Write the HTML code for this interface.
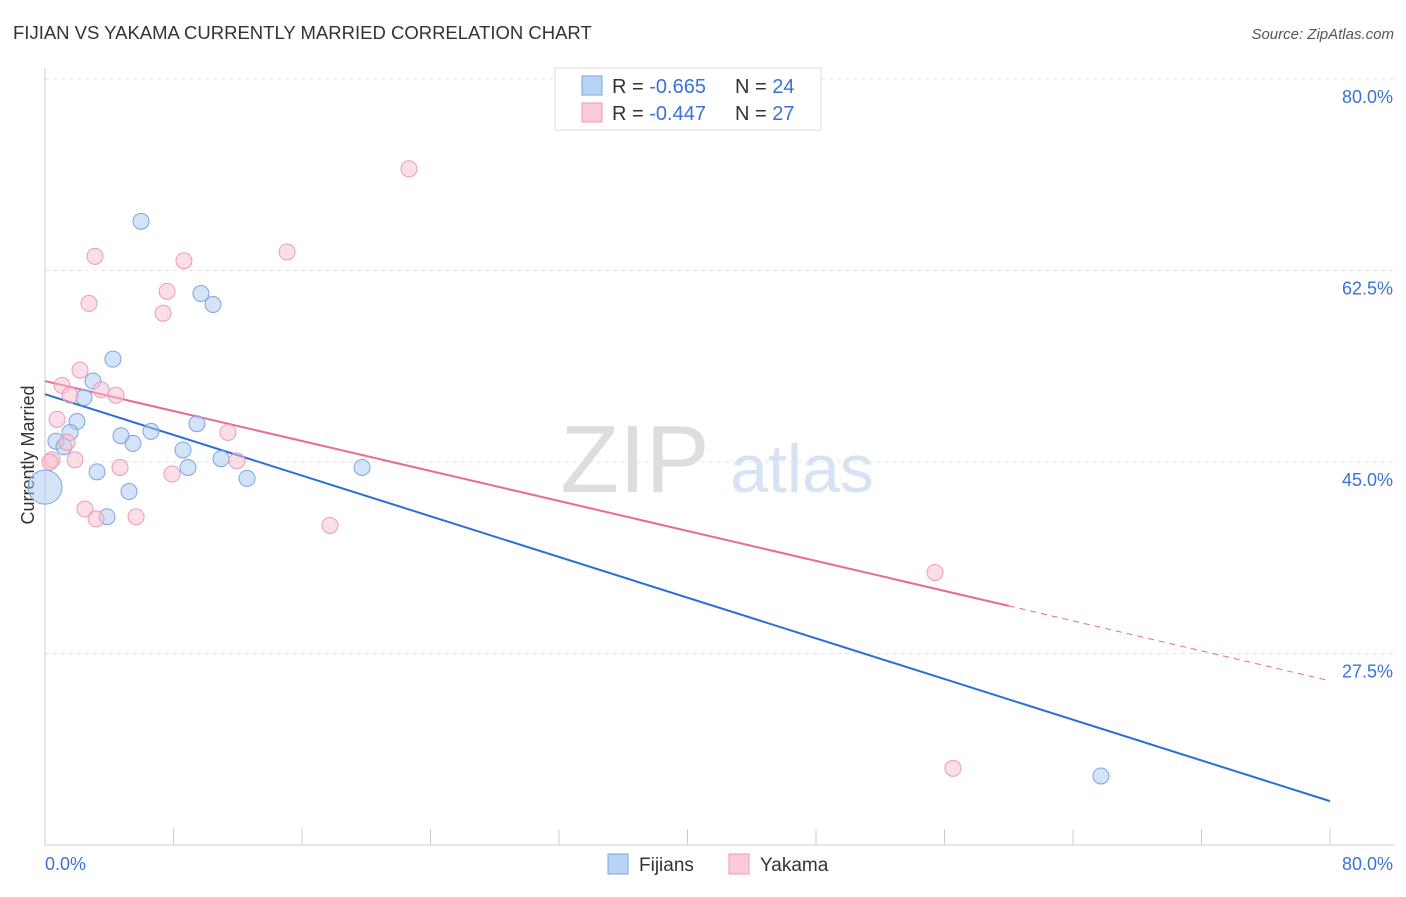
<!DOCTYPE html>
<html><head><meta charset="utf-8"><style>
body{margin:0;background:#fff;font-family:"Liberation Sans",sans-serif}
svg text{font-family:"Liberation Sans",sans-serif}
</style></head><body>
<svg id="c" width="1406" height="892">
<text x="13" y="39" font-size="18.5" fill="#333">FIJIAN VS YAKAMA CURRENTLY MARRIED CORRELATION CHART</text>
<text x="1394" y="39" font-size="15" fill="#555" font-style="italic" text-anchor="end">Source: ZipAtlas.com</text>
<text x="34" y="455" font-size="18" fill="#333" transform="rotate(-90 34 455)" text-anchor="middle">Currently Married</text>
<text x="635" y="492" font-size="96" fill="#ddd" font-family="Liberation Serif" text-anchor="middle">ZIP</text>
<text x="802" y="492" font-size="68" fill="#d5e3f5" text-anchor="middle">atlas</text>
<g id="grid"></g><g id="axes"></g><g id="lines"></g><g id="pts"></g>
<g>
<rect x="555" y="68" width="266" height="62" fill="#fff" stroke="#ddd"/>
<rect x="582" y="76" width="20" height="19" fill="#b9d3f5" stroke="#7aa6e0"/>
<rect x="582" y="103" width="20" height="19" fill="#fccbd9" stroke="#f09ab3"/>
<text x="612" y="93" font-size="20" fill="#333">R = <tspan fill="#3a73d4">-0.665</tspan></text>
<text x="735" y="93" font-size="20" fill="#333">N = <tspan fill="#3a73d4">24</tspan></text>
<text x="612" y="120" font-size="20" fill="#333">R = <tspan fill="#3a73d4">-0.447</tspan></text>
<text x="735" y="120" font-size="20" fill="#333">N = <tspan fill="#3a73d4">27</tspan></text>
</g>
<g>
<rect x="608" y="854" width="20" height="20" fill="#b9d3f5" stroke="#7aa6e0"/>
<text x="639" y="871" font-size="19" fill="#333">Fijians</text>
<rect x="729" y="854" width="20" height="20" fill="#fccbd9" stroke="#f09ab3"/>
<text x="760" y="871" font-size="19" fill="#333">Yakama</text>
</g>
</svg>
<script>
const yTicks=[80,62.5,45,27.5];
const yTickLabels=["80.0%","62.5%","45.0%","27.5%"];
const xTickLabels=["0.0%","80.0%"];
const fijX=[5.98,4.23,9.71,10.46,2.99,2.43,1.99,1.56,0.68,1.18,4.73,5.48,6.60,9.46,8.59,8.90,10.96,12.58,3.24,5.23,3.86,19.74,65.74,0];
const fijY=[67.0,54.4,60.4,59.4,52.4,50.9,48.7,47.7,46.9,46.4,47.4,46.7,47.8,48.5,46.1,44.5,45.3,43.5,44.1,42.3,40.0,44.5,16.3,42.7];
const yakX=[22.66,15.07,3.11,8.65,7.60,2.74,7.35,2.18,1.06,1.56,3.49,4.42,0.75,1.37,1.87,0.44,0.31,11.39,11.95,4.67,7.91,2.49,3.18,5.67,17.74,55.41,56.53];
const yakY=[71.8,64.2,63.8,63.4,60.6,59.5,58.6,53.4,52.0,51.1,51.6,51.1,48.9,46.8,45.2,45.2,45.0,47.7,45.1,44.5,43.9,40.7,39.8,40.0,39.2,34.9,17.0];
const fijLine=[51.2,14.0];
const yakLine=[52.4,25.0];
const yakSolidEnd=60;
const NS="http://www.w3.org/2000/svg";
const X=v=>45+v/80*1285, Y=v=>462-(v-45)*10.94;
function mk(p,t,a){const e=document.createElementNS(NS,t);for(const k in a)e.setAttribute(k,a[k]);document.getElementById(p).appendChild(e);return e;}
yTicks.forEach((t,i)=>{
 const l=mk('grid','line',{x1:45,x2:1394,y1:Y(t),y2:Y(t),stroke:'#e3e3e3','stroke-dasharray':'4,4'});
 
 
 const tx=mk('grid','text',{x:1393,y:Y(t)+24,'font-size':18,fill:'#3a73d4','text-anchor':'end'});tx.textContent=yTickLabels[i];
 
 
});
const ax=mk('axes','line',{x1:45,x2:1394,y1:845,y2:845,stroke:'#ccc'});


const ay=mk('axes','line',{x1:45,x2:45,y1:68,y2:845,stroke:'#ccc'});


for(let i=0;i<=10;i++){const t=mk('axes','line',{x1:X(i*8),x2:X(i*8),y1:829,y2:845,stroke:'#ccc'});
 
 }
[[0,'start',45],[80,'end',1393]].forEach((d,i)=>{const t=mk('axes','text',{x:d[2],y:870,'font-size':18,fill:'#3a73d4','text-anchor':d[1]});t.textContent=xTickLabels[i];
 
 });
const yk=v=>yakLine[0]+(yakLine[1]-yakLine[0])*v/80;
let l1=mk('lines','line',{x1:X(0),y1:Y(fijLine[0]),x2:X(80),y2:Y(fijLine[1]),stroke:'#2a6fd6','stroke-width':2});


let l2=mk('lines','line',{x1:X(0),y1:Y(yk(0)),x2:X(yakSolidEnd),y2:Y(yk(yakSolidEnd)),stroke:'#e86a94','stroke-width':2});


let l3=mk('lines','line',{x1:X(yakSolidEnd),y1:Y(yk(yakSolidEnd)),x2:X(80),y2:Y(yk(80)),stroke:'#e86a94','stroke-width':1,'stroke-dasharray':'6,5'});


fijX.forEach((x,i)=>{const c=mk('pts','circle',{cx:X(x),cy:Y(fijY[i]),r:i==fijX.length-1?17:8,fill:'rgba(170,200,242,0.5)',stroke:'#7aa6e0'});
 
 });
yakX.forEach((x,i)=>{const c=mk('pts','circle',{cx:X(x),cy:Y(yakY[i]),r:8,fill:'rgba(250,190,210,0.5)',stroke:'#f09ab3'});
 
 });
</script>
</body></html>
